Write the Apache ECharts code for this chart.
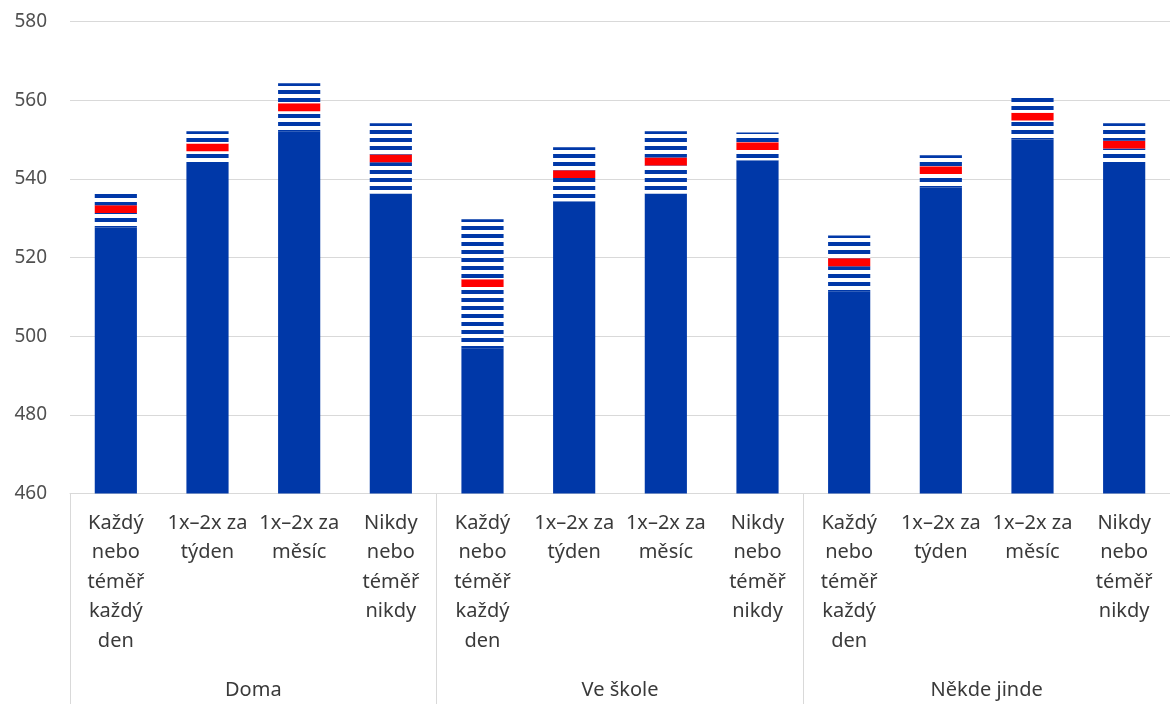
<!DOCTYPE html>
<html>
<head>
<meta charset="utf-8">
<script src="https://cdn.jsdelivr.net/npm/echarts@6/dist/echarts.min.js"></script>
<style>
html,body{margin:0;padding:0;background:#fff;}
#chart{width:1170px;height:704px;}
</style>
</head>
<body>
<div id="chart"></div>
<script>
// Categories (tick labels) and groups
const categories = [
  "Každý\nnebo\ntéměř\nkaždý\nden", "1x–2x za\ntýden", "1x–2x za\nměsíc", "Nikdy\nnebo\ntéměř\nnikdy",
  "Každý\nnebo\ntéměř\nkaždý\nden", "1x–2x za\ntýden", "1x–2x za\nměsíc", "Nikdy\nnebo\ntéměř\nnikdy",
  "Každý\nnebo\ntéměř\nkaždý\nden", "1x–2x za\ntýden", "1x–2x za\nměsíc", "Nikdy\nnebo\ntéměř\nnikdy"
];
const groups = ["Doma", "Ve škole", "Někde jinde"];

// Values: lower bound, mean, upper bound
const lower = [527.6, 544.0, 552.1, 536.3, 496.8, 534.3, 536.3, 544.7, 511.3, 537.8, 550.0, 544.0];
const mean  = [532.3, 548.0, 558.2, 545.2, 513.5, 541.2, 544.4, 548.3, 518.8, 542.2, 555.8, 548.7];
const upper = [537.1, 552.1, 564.3, 554.1, 529.7, 548.0, 552.1, 551.8, 525.6, 546.0, 561.5, 554.1];

const yTicks = {min: 460, max: 580, interval: 20};
const redHalf = 1.0; // half thickness of mean marker (in score units)

const BLUE = '#0038A8';
const RED = '#FF0000';

// Stripe pattern
const pc = document.createElement('canvas');
pc.width = 8; pc.height = 8;
const pctx = pc.getContext('2d');
pctx.fillStyle = '#ffffff';
pctx.fillRect(0, 0, 8, 8);
pctx.fillStyle = BLUE;
pctx.fillRect(0, 2, 8, 4);

const base = lower;
const seg1 = lower.map((l, i) => +(mean[i] - redHalf - l).toFixed(2));
const segRed = mean.map(() => 2 * redHalf);
const seg2 = upper.map((u, i) => +(u - mean[i] - redHalf).toFixed(2));

const FONT = "'Noto Sans', sans-serif";
const chart = echarts.init(document.getElementById('chart'), null, {renderer: 'canvas'});
chart.setOption({
  animation: false,
  backgroundColor: '#ffffff',
  grid: {left: 70, right: 0, top: 21.5, bottom: 210.5, containLabel: false},
  xAxis: [{
    type: 'category',
    data: categories,
    axisLine: {show: true, lineStyle: {color: '#d9d9d9', width: 1}},
    axisTick: {show: false},
    axisLabel: {interval: 0, color: '#3a3a3a', fontFamily: FONT, fontSize: 20, lineHeight: 29.5, margin: 15}
  }, {
    type: 'category',
    data: groups,
    position: 'bottom',
    axisLine: {show: false},
    axisTick: {show: true, interval: 0, length: 212, lineStyle: {color: '#d9d9d9', width: 1}},
    axisLabel: {interval: 0, color: '#3a3a3a', fontFamily: FONT, fontSize: 20, margin: 187}
  }],
  yAxis: {
    type: 'value',
    min: yTicks.min, max: yTicks.max, interval: yTicks.interval,
    axisLine: {show: false},
    axisTick: {show: false},
    splitLine: {show: true, lineStyle: {color: '#d9d9d9', width: 1}},
    axisLabel: {color: '#505050', fontFamily: FONT, fontSize: 19, margin: 23}
  },
  series: [
    {type: 'bar', stack: 'a', data: base, barWidth: '46%', itemStyle: {color: BLUE}, xAxisIndex: 0},
    {type: 'bar', stack: 'a', data: seg1, itemStyle: {color: {image: pc, repeat: 'repeat'}}, xAxisIndex: 0},
    {type: 'bar', stack: 'a', data: segRed, itemStyle: {color: RED}, xAxisIndex: 0},
    {type: 'bar', stack: 'a', data: seg2, itemStyle: {color: {image: pc, repeat: 'repeat'}}, xAxisIndex: 0}
  ]
});
</script>
</body>
</html>
